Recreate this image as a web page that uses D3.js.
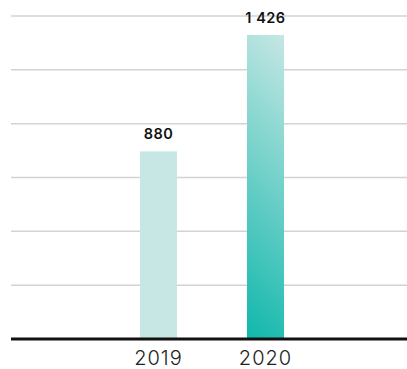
<!DOCTYPE html>
<html>
<head>
<meta charset="utf-8">
<script src="https://cdn.jsdelivr.net/npm/d3@7"></script>
<style>
  html, body { margin: 0; padding: 0; background: #fff; }
  svg { display: block; }
</style>
</head>
<body>
<div id="chart"></div>
<script>
const years = ["2019", "2020"];
const values = [880, 1426];
const valueLabels = ["880", "1 426"];
const gridSteps = 6;
const yMax = 1515;

const width = 407, height = 369;
const margin = { top: 16, right: 0, bottom: 30, left: 11 };

const x = d3.scaleBand()
  .domain(years)
  .range([105, 319])
  .paddingInner(0.654)
  .paddingOuter(0.327);

const y = d3.scaleLinear()
  .domain([0, yMax])
  .range([height - margin.bottom, margin.top]);

const svg = d3.select("#chart").append("svg")
  .attr("width", width)
  .attr("height", height);

// 45deg gradient for the 2020 bar, dark at bottom-left, light at top-right
const b = years[1];
const bw = x.bandwidth(), bh = y(0) - y(values[1]);
const L = (bw + bh) / 2;
const grad = svg.append("defs").append("linearGradient")
  .attr("id", "barGrad")
  .attr("gradientUnits", "userSpaceOnUse")
  .attr("x1", x(b)).attr("y1", y(0))
  .attr("x2", x(b) + L).attr("y2", y(0) - L);
grad.append("stop").attr("offset", "0%").attr("stop-color", "#10b7ab");
grad.append("stop").attr("offset", "100%").attr("stop-color", "#c6e7e4");

// gridlines
svg.append("g")
  .selectAll("line")
  .data(d3.range(1, gridSteps + 1).map(i => i * yMax / gridSteps))
  .join("line")
  .attr("x1", margin.left)
  .attr("x2", width)
  .attr("y1", d => y(d))
  .attr("y2", d => y(d))
  .attr("stroke", "#d3d3d3")
  .attr("stroke-width", 1.5);

svg.append("g")
  .selectAll("rect")
  .data(values)
  .join("rect")
  .attr("x", (d, i) => x(years[i]))
  .attr("y", d => y(d))
  .attr("width", x.bandwidth())
  .attr("height", d => y(0) - y(d))
  .attr("fill", (d, i) => i === 1 ? "url(#barGrad)" : "#c6e7e4");

svg.append("g")
  .selectAll("text")
  .data(values)
  .join("text")
  .attr("x", (d, i) => x(years[i]) + x.bandwidth() / 2)
  .attr("y", d => y(d) - 12)
  .attr("text-anchor", "middle")
  .attr("font-family", "Inter, 'Noto Sans', sans-serif")
  .attr("font-size", 14.5)
  .attr("font-weight", 600)
  .attr("letter-spacing", 0.5)
  .attr("fill", "#111")
  .text((d, i) => valueLabels[i]);

// baseline
svg.append("line")
  .attr("x1", margin.left)
  .attr("x2", width)
  .attr("y1", y(0))
  .attr("y2", y(0))
  .attr("stroke", "#111")
  .attr("stroke-width", 3);

svg.append("g")
  .selectAll("text")
  .data(years)
  .join("text")
  .attr("x", d => x(d) + x.bandwidth() / 2)
  .attr("y", y(0) + 26)
  .attr("text-anchor", "middle")
  .attr("font-family", "Inter, 'Noto Sans', sans-serif")
  .attr("font-size", 20)
  .attr("font-weight", 300)
  .attr("letter-spacing", 1)
  .attr("fill", "#222")
  .text(d => d);
</script>
</body>
</html>
